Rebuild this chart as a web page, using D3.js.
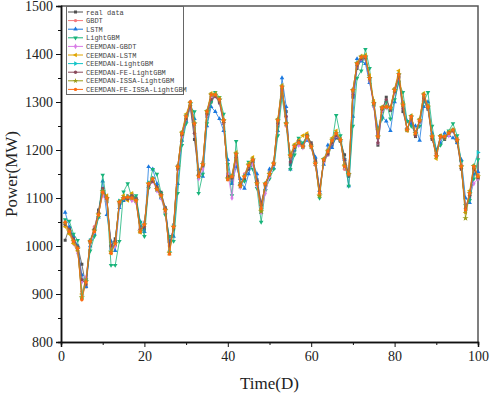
<!DOCTYPE html>
<html>
<head>
<meta charset="utf-8">
<script src="https://cdn.jsdelivr.net/npm/d3@7"></script>
<style>
    body { margin: 0; background: #fff; }
</style>
</head>
<body>
<div id="chart"></div>
<script>
// chart values
const seriesNames = ["real data", "GBDT", "LSTM", "LightGBM", "CEEMDAN-GBDT", "CEEMDAN-LSTM",
    "CEEMDAN-LightGBM", "CEEMDAN-FE-LightGBM", "CEEMDAN-ISSA-LightGBM", "CEEMDAN-FE-ISSA-LightGBM"];

const xTicks = [0, 20, 40, 60, 80, 100];
const yTicks = [800, 900, 1000, 1100, 1200, 1300, 1400, 1500];

const realData = [1012,1038,1015,1000,962,915,1008,1035,1075,1120,1098,1000,1015,1085,1095,1100,1108,1100,1040,1035,1122,1135,1125,1112,1080,1005,1035,1160,1230,1262,1290,1222,1150,1165,1270,1300,1312,1298,1255,1150,1140,1180,1130,1140,1160,1175,1138,1090,1125,1148,1170,1250,1320,1280,1170,1200,1220,1210,1232,1215,1180,1120,1175,1190,1210,1225,1218,1190,1145,1310,1370,1388,1390,1345,1295,1210,1280,1310,1282,1320,1350,1280,1245,1262,1228,1258,1305,1285,1222,1195,1230,1222,1238,1240,1215,1160,1080,1102,1160,1140];

const gbdt = [1048,1028,1008,990,905,930,1012,1040,1070,1110,1095,995,1000,1090,1098,1105,1100,1098,1035,1050,1128,1142,1120,1100,1070,990,1045,1168,1232,1272,1295,1250,1150,1175,1275,1310,1318,1302,1258,1145,1135,1190,1125,1150,1170,1178,1128,1075,1128,1155,1175,1258,1328,1250,1185,1210,1212,1205,1230,1210,1168,1105,1178,1200,1222,1232,1225,1160,1152,1320,1378,1390,1392,1348,1296,1225,1286,1292,1286,1328,1355,1290,1240,1268,1238,1260,1312,1292,1230,1190,1225,1230,1232,1240,1225,1170,1070,1105,1165,1150];

const lstm = [1070,1040,1020,1000,940,915,1000,1025,1060,1135,1065,1010,990,1080,1095,1100,1105,1100,1050,1030,1165,1160,1130,1100,1080,1010,1020,1130,1220,1260,1300,1265,1160,1145,1250,1290,1280,1265,1240,1180,1130,1165,1140,1120,1150,1175,1150,1070,1120,1160,1162,1240,1350,1290,1160,1200,1220,1210,1220,1210,1185,1115,1170,1210,1205,1228,1220,1180,1125,1270,1390,1385,1380,1340,1300,1245,1270,1260,1240,1300,1345,1300,1260,1255,1250,1220,1290,1300,1235,1200,1215,1235,1230,1225,1215,1180,1100,1090,1150,1155];

const lightgbm = [1055,1052,1025,1012,890,930,990,1020,1060,1148,1090,960,960,1010,1113,1130,1100,1105,1050,1020,1120,1160,1150,1110,1065,1020,1010,1110,1210,1255,1290,1280,1110,1150,1255,1300,1320,1310,1275,1170,1105,1218,1130,1135,1175,1160,1120,1050,1115,1140,1160,1230,1310,1255,1160,1190,1225,1215,1230,1210,1175,1100,1180,1195,1215,1272,1230,1180,1125,1250,1350,1365,1410,1370,1290,1240,1265,1300,1265,1305,1340,1320,1260,1250,1235,1250,1300,1320,1250,1200,1210,1225,1240,1255,1230,1175,1085,1095,1140,1180];

const ceemdanGbdt = [1045,1030,1005,985,925,935,1005,1030,1068,1105,1090,995,1000,1090,1100,1100,1095,1090,1030,1048,1125,1135,1115,1100,1072,990,1042,1160,1228,1265,1290,1250,1140,1160,1272,1310,1312,1300,1255,1150,1100,1185,1122,1148,1165,1170,1125,1070,1110,1145,1170,1255,1325,1255,1190,1205,1210,1205,1225,1205,1170,1108,1175,1192,1215,1230,1220,1165,1150,1318,1375,1390,1390,1345,1290,1215,1282,1288,1285,1320,1352,1292,1245,1265,1232,1258,1310,1288,1225,1185,1225,1228,1230,1240,1220,1168,1080,1110,1130,1140];

const ceemdanLstm = [1040,1025,1005,990,900,930,1010,1035,1065,1112,1105,985,1010,1092,1105,1095,1110,1095,1028,1045,1130,1138,1120,1105,1078,988,1040,1165,1238,1275,1300,1255,1148,1172,1282,1318,1318,1308,1262,1142,1148,1195,1128,1145,1172,1185,1132,1075,1130,1152,1172,1265,1335,1255,1190,1212,1220,1230,1235,1210,1172,1105,1182,1200,1225,1240,1222,1170,1150,1325,1382,1396,1398,1355,1302,1228,1290,1290,1290,1328,1365,1298,1240,1272,1232,1265,1318,1292,1228,1182,1230,1225,1238,1242,1222,1165,1070,1115,1168,1145];

const ceemdanLightgbm = [1050,1032,1012,996,898,928,1012,1032,1068,1115,1100,992,1008,1094,1100,1104,1102,1096,1032,1046,1132,1142,1118,1104,1075,988,1042,1165,1236,1270,1298,1256,1145,1170,1280,1315,1316,1305,1262,1140,1146,1192,1125,1146,1168,1180,1130,1078,1130,1150,1172,1262,1332,1255,1188,1208,1215,1207,1228,1207,1172,1110,1180,1197,1220,1235,1221,1166,1150,1325,1380,1394,1395,1350,1298,1228,1288,1290,1288,1325,1358,1294,1242,1270,1235,1262,1315,1290,1228,1187,1228,1228,1235,1242,1221,1166,1075,1110,1166,1195];

const ceemdanFeLightgbm = [1045,1035,1015,998,930,920,1010,1035,1070,1120,1100,1000,1010,1090,1100,1098,1105,1098,1035,1040,1125,1135,1122,1108,1078,1000,1038,1162,1232,1265,1292,1235,1148,1168,1275,1305,1312,1300,1258,1145,1142,1185,1128,1142,1165,1178,1135,1085,1128,1148,1170,1255,1325,1270,1175,1205,1218,1208,1230,1212,1176,1115,1178,1192,1215,1230,1220,1180,1148,1315,1375,1390,1392,1348,1296,1215,1285,1305,1284,1322,1352,1286,1244,1265,1230,1260,1308,1288,1224,1192,1228,1225,1236,1240,1218,1162,1078,1105,1162,1142];

const ceemdanIssaLightgbm = [1048,1030,1010,994,893,926,1010,1032,1066,1114,1100,988,1005,1092,1100,1102,1100,1095,1030,1045,1130,1140,1118,1105,1075,985,1040,1165,1235,1270,1298,1255,1145,1170,1280,1315,1315,1305,1262,1140,1145,1192,1125,1145,1168,1180,1130,1072,1130,1150,1172,1262,1332,1255,1188,1208,1215,1207,1228,1207,1172,1105,1180,1197,1220,1235,1221,1166,1150,1325,1380,1394,1395,1350,1298,1228,1288,1290,1288,1325,1358,1294,1242,1270,1235,1262,1315,1290,1228,1187,1228,1228,1235,1242,1221,1166,1058,1110,1166,1145];

const ceemdanFeIssaLightgbm = [1050,1030,1010,995,888,925,1010,1030,1065,1112,1100,985,1005,1092,1100,1102,1100,1095,1030,1045,1130,1140,1118,1105,1075,983,1040,1165,1235,1270,1300,1255,1145,1170,1280,1315,1315,1305,1262,1138,1145,1192,1125,1145,1168,1180,1130,1078,1130,1150,1172,1262,1332,1255,1188,1208,1215,1207,1228,1207,1172,1110,1180,1197,1220,1235,1221,1166,1150,1325,1380,1394,1395,1350,1298,1228,1288,1290,1288,1325,1358,1294,1242,1270,1235,1262,1315,1290,1228,1187,1228,1228,1235,1242,1221,1166,1075,1110,1166,1145];

const allSeries = [realData, gbdt, lstm, lightgbm, ceemdanGbdt, ceemdanLstm,
    ceemdanLightgbm, ceemdanFeLightgbm, ceemdanIssaLightgbm, ceemdanFeIssaLightgbm];

// look of each series
const colors = ["#505050", "#f4787c", "#1a78e0", "#18b47a", "#d87ce6", "#e0a500",
    "#14c4c8", "#8a4a5c", "#9a9a14", "#ff6a12"];
const symbols = [d3.symbolSquare, d3.symbolCircle, d3.symbolTriangle, d3.symbolTriangle,
    d3.symbolDiamond, d3.symbolTriangle, d3.symbolTriangle, d3.symbolCircle, d3.symbolStar, d3.symbolCircle];
const rotations = [0, 0, 0, 180, 0, 270, 90, 0, 0, 0];

const serifFont = '"Liberation Serif", "DejaVu Serif", serif';
const width = 491;
const height = 394;
const margin = { top: 6, right: 13, bottom: 52, left: 61 };

let svg = d3.select("#chart").append("svg")
    .attr("width", width)
    .attr("height", height)
;

let x = d3.scaleLinear()
    .domain([0, 100])
    .range([margin.left, width - margin.right]);
let y = d3.scaleLinear()
    .domain([800, 1500])
    .range([height - margin.bottom, margin.top]);

let x0 = margin.left, x1 = width - margin.right;
let y0 = height - margin.bottom, y1 = margin.top;

// frame (top and right)
svg.append("path")
    .attr("d", `M${x0},${y1}H${x1}V${y0}`)
    .attr("fill", "none")
    .attr("stroke", "#555")
    .attr("stroke-width", 1.5)
;

// minor ticks
let xAxisMinor = d3.axisBottom(x).tickValues(d3.range(10, 100, 20)).tickSize(3).tickFormat("");
let yAxisMinor = d3.axisLeft(y).tickValues(d3.range(850, 1500, 100)).tickSize(3).tickFormat("");
svg.append("g").attr("transform", `translate(0,${y0})`).call(xAxisMinor);
svg.append("g").attr("transform", `translate(${x0},0)`).call(yAxisMinor);

// major axes
let xAxis = svg.append("g")
    .attr("transform", `translate(0,${y0})`)
    .call(d3.axisBottom(x).tickValues(xTicks).tickSize(5).tickPadding(4).tickFormat(d3.format("d")));
let yAxis = svg.append("g")
    .attr("transform", `translate(${x0},0)`)
    .call(d3.axisLeft(y).tickValues(yTicks).tickSize(5).tickPadding(3).tickFormat(d3.format("d")));

svg.selectAll(".domain").attr("stroke", "#111").attr("stroke-width", 1.5);
svg.selectAll(".tick line").attr("stroke", "#111");
svg.selectAll(".tick text")
    .style("font-family", serifFont)
    .style("font-size", "14px")
    .style("fill", "#222")
;

svg.append("text")
    .attr("x", (x0 + x1) / 2)
    .attr("y", 389)
    .attr("text-anchor", "middle")
    .style("font-family", serifFont)
    .style("font-size", "17px")
    .style("fill", "#222")
    .text("Time(D)")
;
svg.append("text")
    .attr("transform", `translate(17,${(y0 + y1) / 2}) rotate(-90)`)
    .attr("text-anchor", "middle")
    .style("font-family", serifFont)
    .style("font-size", "17px")
    .style("fill", "#222")
    .text("Power(MW)")
;

// lines and markers
let line = d3.line()
    .x((d, i) => x(i + 1))
    .y(d => y(d));

let chartGroup = svg.append("g");
allSeries.forEach((values, k) => {
    chartGroup.append("path")
        .datum(values)
        .attr("d", line)
        .attr("fill", "none")
        .attr("stroke", colors[k])
        .attr("stroke-width", 0.8)
    ;
    chartGroup.selectAll(null)
        .data(values)
        .enter()
        .append("path")
        .attr("d", d3.symbol().type(symbols[k]).size(k === 8 ? 12 : 9))
        .attr("transform", (d, i) => `translate(${x(i + 1)},${y(d)}) rotate(${rotations[k]})`)
        .attr("fill", colors[k])
    ;
});

// legend
let legend = svg.append("g");
legend.append("rect")
    .attr("x", 66.5)
    .attr("y", 6.5)
    .attr("width", 117)
    .attr("height", 88)
    .attr("fill", "#fff")
    .attr("stroke", "#666")
    .attr("stroke-width", 1)
;
seriesNames.forEach((name, k) => {
    let ly = 12 + k * 8.6;
    legend.append("line")
        .attr("x1", 68).attr("x2", 83)
        .attr("y1", ly).attr("y2", ly)
        .attr("stroke", colors[k])
        .attr("stroke-width", 1)
    ;
    legend.append("path")
        .attr("d", d3.symbol().type(symbols[k]).size(9))
        .attr("transform", `translate(75.5,${ly}) rotate(${rotations[k]})`)
        .attr("fill", colors[k])
    ;
    legend.append("text")
        .attr("x", 86)
        .attr("y", ly + 2.5)
        .style("font-family", '"Liberation Mono", "DejaVu Sans Mono", monospace')
        .style("font-size", "7px")
        .style("fill", "#444")
        .text(name)
    ;
});
</script>
</body>
</html>
